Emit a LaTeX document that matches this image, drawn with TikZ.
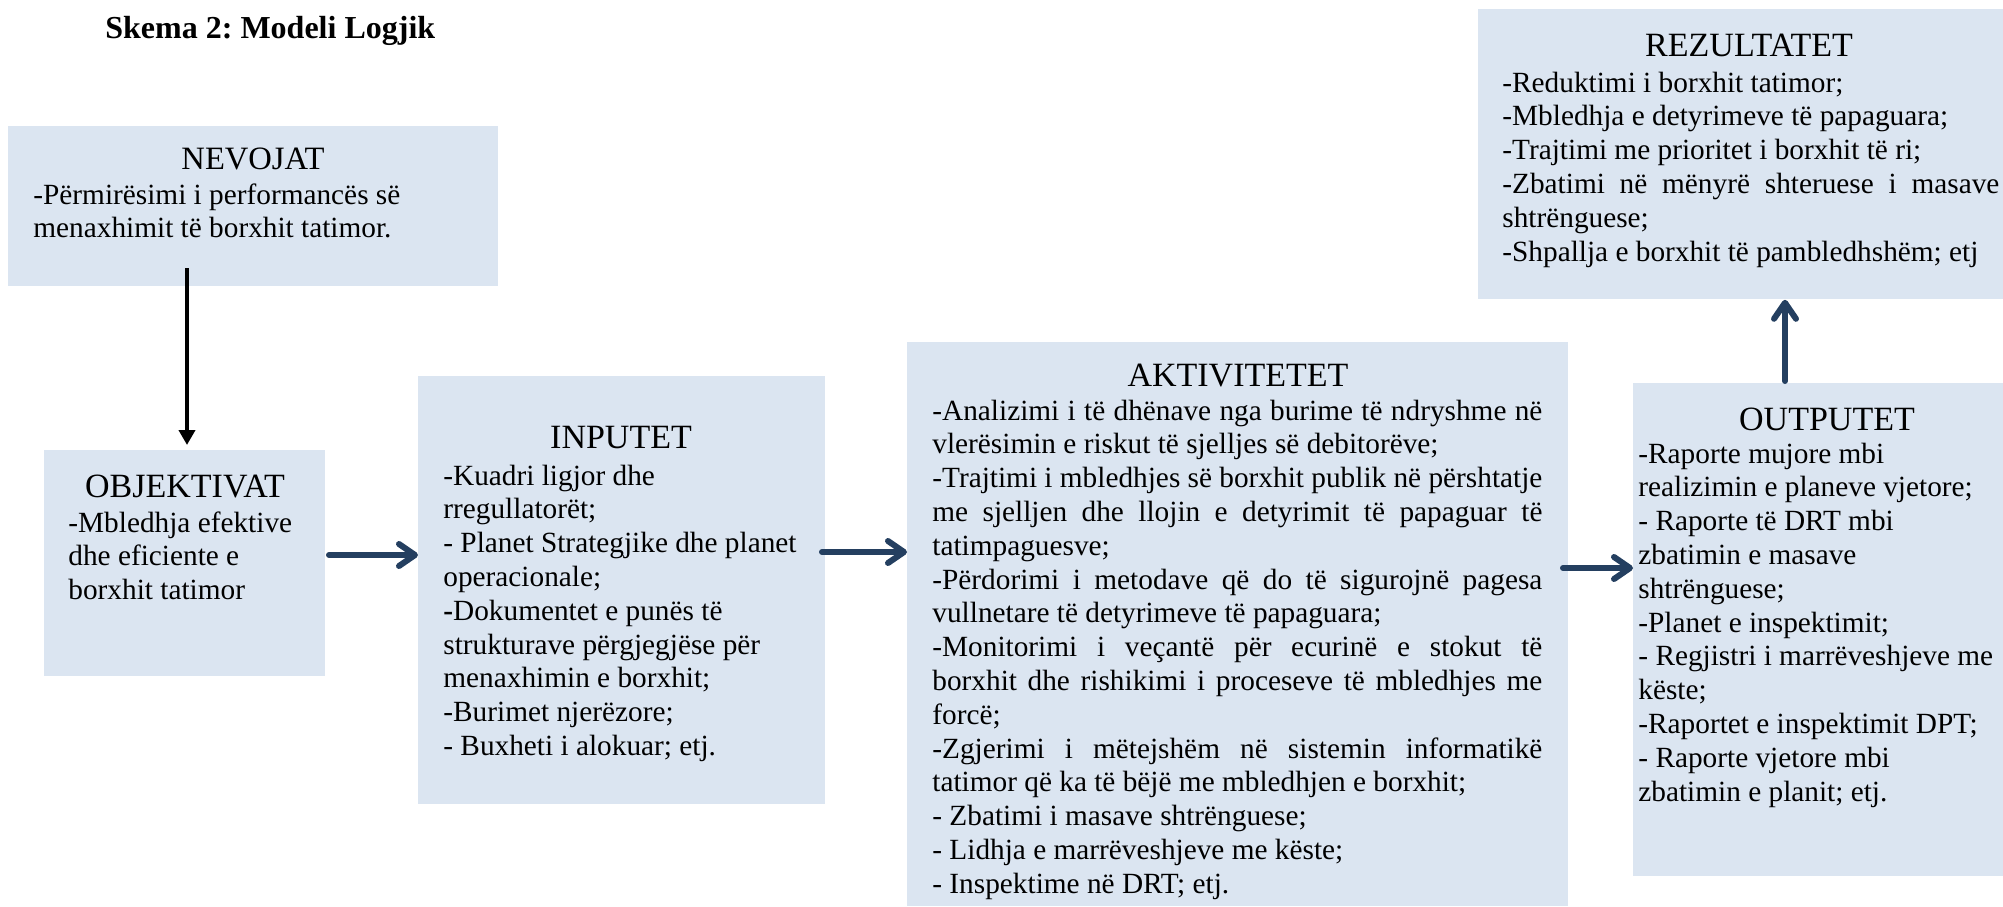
\documentclass[tikz,border=0pt]{standalone}
\usepackage{fontspec}
\setmainfont{Liberation Serif}
\usetikzlibrary{arrows.meta,calc}
\definecolor{boxblue}{HTML}{DBE5F1}
\definecolor{arrowblue}{HTML}{243F60}
\newcommand{\bodyfnt}{\fontsize{14.65pt}{16.9pt}\selectfont}
\newcommand{\jline}[2]{\makebox[#1][s]{#2}}
\frenchspacing
\begin{document}
\begin{tikzpicture}[x=0.5pt,y=-0.5pt,
  box/.style={fill=boxblue, draw=none, inner sep=0, anchor=north west},
  head/.style={anchor=base, inner sep=0, font=\fontsize{17pt}{20pt}\selectfont},
  body/.style={anchor=base west, inner sep=0, font=\bodyfnt},
  arr/.style={draw=arrowblue, line width=3pt, line cap=round, -{Straight Barb[length=8pt,width=11pt,round]}},
  blackarr/.style={draw=black, line width=2.4pt, -{Triangle[length=7.5pt,width=8pt]}, shorten >=2.5pt}]
\useasboundingbox (0,0) rectangle (2003,906);

% title
\node[anchor=base west, inner sep=0, font=\bfseries\fontsize{16pt}{19pt}\selectfont] (title) at (105,38) {Skema 2: Modeli Logjik};

% boxes
\node[box, minimum width=245pt, minimum height=80pt] (nev) at (8,126) {};
\node[box, minimum width=140.5pt, minimum height=113pt] (obj) at (44,450) {};
\node[box, minimum width=203.5pt, minimum height=214pt] (inp) at (418,376) {};
\node[box, minimum width=330.5pt, minimum height=282pt] (akt) at (907,342) {};
\node[box, minimum width=185pt, minimum height=246.5pt] (out) at (1633,383) {};
\node[box, minimum width=262.5pt, minimum height=145pt] (rez) at (1478,9) {};

% headings
\node[head, font=\fontsize{16.3pt}{20pt}\selectfont] (nevh) at (253,169) {NEVOJAT};
\node[head] (objh) at (185,497) {OBJEKTIVAT};
\node[head] (inph) at (621,448) {INPUTET};
\node[head] (akth) at (1238,386) {AKTIVITETET};
\node[head] (outh) at (1827,430) {OUTPUTET};
\node[head] (rezh) at (1749,56) {REZULTATET};

% body texts
\node[body] (nevt) at (33,204) {\parbox[t]{250pt}{-Përmirësimi i performancës së\\menaxhimit të borxhit tatimor.}};
\node[body] (objt) at (68,532) {\parbox[t]{150pt}{-Mbledhja efektive\\dhe eficiente e\\borxhit tatimor}};
\node[body] (inpt) at (443,485) {\parbox[t]{220pt}{-Kuadri ligjor dhe\\rregullatorët;\\- Planet Strategjike dhe planet\\operacionale;\\\textbf{-}Dokumentet e punës të\\strukturave përgjegjëse për\\menaxhimin e borxhit;\\-Burimet njerëzore;\\- Buxheti i alokuar; etj.}};
\node[body] (aktt) at (932,420) {\parbox[t]{320pt}{%
\jline{305pt}{-Analizimi i të dhënave nga burime të ndryshme në}\\
vlerësimin e riskut të sjelljes së debitorëve;\\
\jline{305pt}{-Trajtimi i mbledhjes së borxhit publik në përshtatje}\\
\jline{305pt}{me sjelljen dhe llojin e detyrimit të papaguar të}\\
tatimpaguesve;\\
\jline{305pt}{-Përdorimi i metodave që do të sigurojnë pagesa}\\
vullnetare të detyrimeve të papaguara;\\
\jline{305pt}{-Monitorimi i veçantë për ecurinë e stokut të}\\
\jline{305pt}{borxhit dhe rishikimi i proceseve të mbledhjes me}\\
forcë;\\
\jline{305pt}{-Zgjerimi i mëtejshëm në sistemin informatikë}\\
tatimor që ka të bëjë me mbledhjen e borxhit;\\
- Zbatimi i masave shtrënguese;\\
- Lidhja e marrëveshjeve me këste;\\
- Inspektime në DRT; etj.}};
\node[body] (outt) at (1638,463) {\parbox[t]{200pt}{-Raporte mujore mbi\\realizimin e planeve vjetore;\\- Raporte të DRT mbi\\zbatimin e masave\\shtrënguese;\\-Planet e inspektimit;\\- Regjistri i marrëveshjeve me\\këste;\\-Raportet e inspektimit DPT;\\- Raporte vjetore mbi\\zbatimin e planit; etj.}};
\node[body] (rezt) at (1502,92) {\parbox[t]{260pt}{-Reduktimi i borxhit tatimor;\\-Mbledhja e detyrimeve të papaguara;\\-Trajtimi me prioritet i borxhit të ri;\\\jline{248.5pt}{-Zbatimi në mënyrë shteruese i masave}\\shtrënguese;\\-Shpallja e borxhit të pambledhshëm; etj}};

% connectors
\coordinate (nevs) at (187,268);
\draw[blackarr] (nevs) -- (nevs |- obj.north);
\coordinate (a1) at (329,555);
\draw[arr] (a1) -- (a1 -| inp.west);
\coordinate (a2) at (822,552);
\draw[arr] (a2) -- (a2 -| akt.west);
\coordinate (a3) at (1563,568);
\draw[arr] (a3) -- (a3 -| out.west);
\coordinate (a4) at (1785,381);
\draw[arr] (a4) -- (a4 |- rez.south);
\end{tikzpicture}
\end{document}
